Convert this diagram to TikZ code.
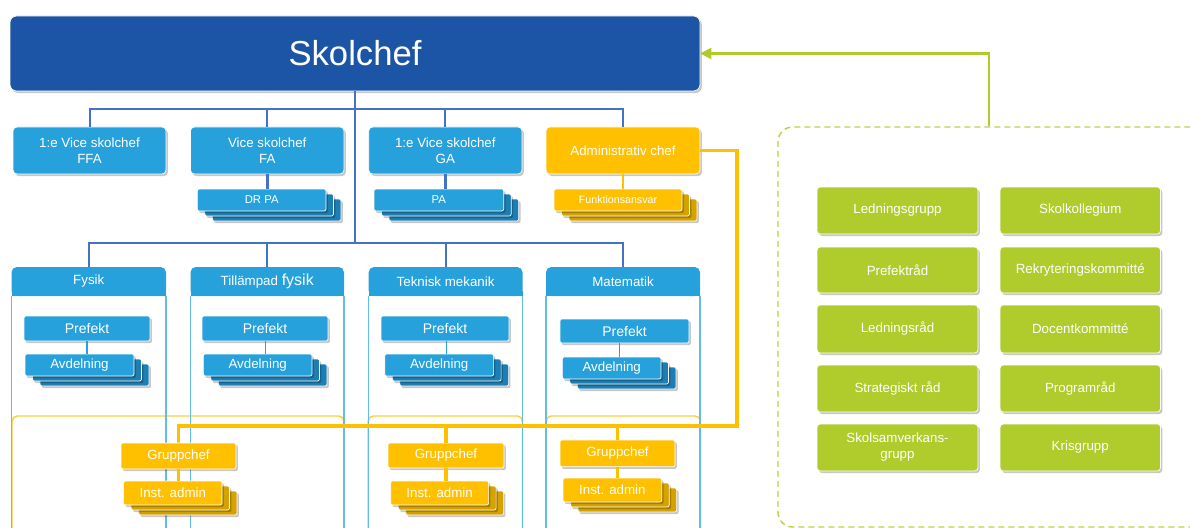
\documentclass[tikz,border=0pt]{standalone}
\usepackage{fontspec}
\setmainfont{Liberation Sans}
\usetikzlibrary{fit,shadows,arrows.meta,calc}

\definecolor{navy}{HTML}{1C55A5}
\definecolor{sky}{HTML}{26A1DB}
\definecolor{skydark}{HTML}{1C7EB2}
\definecolor{skylight}{HTML}{62BBE8}
\definecolor{busblue}{HTML}{4472C4}
\definecolor{gold}{HTML}{FFC000}
\definecolor{golddark}{HTML}{D6A200}
\definecolor{goldlight}{HTML}{FFCF3A}
\definecolor{leaf}{HTML}{B0CB2C}
\definecolor{leafdash}{HTML}{B9D54C}

\tikzset{
  % a node covering the pixel box x1,y1 -- x2,y2
  span/.style n args={4}{at={({(#1+#3)/2},{(#2+#4)/2})},
    minimum width={(#3-#1)*0.75pt}, minimum height={(#4-#2)*0.75pt}},
  shade/.style={drop shadow={shadow xshift=1.4pt, shadow yshift=-1.6pt, fill=black, opacity=0.22}},
  box/.style={inner sep=0pt, outer sep=0pt, text=white, align=center, draw=white,
    line width=0.5pt, rounded corners=3pt, font=\fontsize{10}{12}\selectfont, shade},
  navybox/.style={box, fill=navy, rounded corners=5pt, font=\fontsize{26}{30}\selectfont},
  bluebox/.style={box, fill=sky},
  goldbox/.style={box, fill=gold},
  leafbox/.style={box, fill=leaf, rounded corners=2.5pt},
  bluecard/.style={box, fill=sky, rounded corners=1.5pt},
  goldcard/.style={box, fill=gold, rounded corners=1.5pt},
  blueback/.style={draw=white, line width=0.5pt, fill=skydark, rounded corners=1.5pt, shade},
  goldback/.style={draw=white, line width=0.5pt, fill=golddark, rounded corners=1.5pt, shade},
  head/.style={inner sep=0pt, outer sep=0pt, text=white, fill=sky, rounded corners=4pt,
    font=\fontsize{10}{12}\selectfont},
  bus/.style={draw=busblue, line width=1.5pt},
  busthick/.style={draw=busblue, line width=2.2pt},
  thinlink/.style={draw=sky, line width=0.8pt},
  deptline/.style={draw=skylight, line width=0.8pt},
  adminline/.style={draw=goldlight, line width=1.1pt, rounded corners=4pt},
  goldlink/.style={draw=gold, line width=2pt},
  goldthick/.style={draw=gold, line width=2.7pt},
  panel/.style={draw=leafdash, line width=1.1pt, dash pattern=on 4.5pt off 3pt,
    rounded corners=11pt, inner sep=0pt},
  greenarrow/.style={draw=leaf, line width=2.2pt, -{Triangle[length=8.5pt,width=8pt]}}
}

% stacked cards: name, front style, back style, x1, y1, x2, y2, text
\newcommand\cardstack[8]{%
  \path[#3] ({#4+15},{#5+10}) rectangle ({#6+15},{#7+10});
  \path[#3] ({#4+7.5},{#5+5}) rectangle ({#6+7.5},{#7+5});
  \node[#2, span={#4}{#5}{#6}{#7}] (#1) {#8};
  \node[inner sep=0pt, outer sep=0pt, fit={(#4,#5)({#6+15},{#7+10})}] (#1s) {};
}

\begin{document}
\begin{tikzpicture}[x=0.75pt, y=-0.75pt]
\clip (0,0) rectangle (1190,528);
\fill[white] (0,0) rectangle (1190,528);

\coordinate (topbus) at (0,109);
\coordinate (lowbus) at (0,243);
\coordinate (obus) at (737,426);
\coordinate (floor) at (0,540);
\coordinate (gx) at (989,0);

% ---- lower administrative frames
\draw[adminline] (12,540) -- (12,416) -- (344,416) -- (344,540);
\draw[adminline] (368,540) -- (368,416) -- (522.5,416) -- (522.5,540);
\draw[adminline] (546,540) -- (546,416) -- (700.5,416) -- (700.5,540);

% ---- department headers
\node[head, span={11.5}{267}{166}{296}] (fysik) {Fysik};
\node[head, span={190.5}{267}{344}{296}] (til) {Tillämpad {\fontsize{12}{14}\selectfont fysik}};
\node[head, span={368.7}{267}{522.5}{296}] (tek) {Teknisk mekanik};
\node[head, span={546}{267}{700}{296}] (mat) {Matematik};
\foreach \d in {fysik,til,tek,mat}{
  \fill[sky] (\d.south west) rectangle ([yshift=4pt]\d.south east);
  \draw[deptline] (\d.south west) -- (\d.south west |- floor);
  \draw[deptline] (\d.south east) -- (\d.south east |- floor);
}

% ---- head of school
\node[navybox, span={10}{16}{700}{91}] (skol) {Skolchef};

% ---- deputies
\node[bluebox, span={13}{127}{166}{174}] (ffa) {1:e Vice skolchef\\FFA};
\node[bluebox, span={190.5}{127}{344}{174}] (fa) {Vice skolchef\\FA};
\node[bluebox, span={368.7}{127}{522}{174}] (ga) {1:e Vice skolchef\\GA};
\node[goldbox, span={546}{127}{700}{174}] (adm) {Administrativ chef};

% ---- reporting lines
\draw[bus] (skol.south) -- (skol.south |- lowbus);
\draw[bus] (ffa.north) -- (ffa.north |- topbus) -- (adm.north |- topbus) -- (adm.north);
\draw[bus] (fa.north) -- (fa.north |- topbus);
\draw[bus] (ga.north) -- (ga.north |- topbus);
\draw[bus] (fysik.north) -- (fysik.north |- lowbus) -- (mat.north |- lowbus) -- (mat.north);
\draw[bus] (til.north) -- (til.north |- lowbus);
\draw[bus] (tek.north) -- (tek.north |- lowbus);

% ---- staff functions
\cardstack{drpa}{bluecard, font=\fontsize{8.5}{10}\selectfont}{blueback}{197.4}{189}{326}{211}{DR PA}
\cardstack{pa}{bluecard, font=\fontsize{8.5}{10}\selectfont}{blueback}{374}{189}{503.7}{211}{PA}
\cardstack{funk}{goldcard, font=\fontsize{8}{10}\selectfont}{goldback}{554}{189}{682}{211}{Funktionsansvar}
\draw[busthick] (fa.south) -- (fa.south |- drpa.north);
\draw[busthick] (ga.south) -- (ga.south |- pa.north);
\draw[goldlink] (adm.south) -- (adm.south |- funk.north);

% ---- departments
\tikzset{pref/.style={bluebox, rounded corners=1.5pt, font=\fontsize{10.5}{12}\selectfont}}
\node[pref, span={24}{316}{150}{341}] (pf1) {Prefekt};
\node[pref, span={202}{316}{328}{341}] (pf2) {Prefekt};
\node[pref, span={381}{316}{509}{341}] (pf3) {Prefekt};
\node[pref, span={560}{319}{689}{343}] (pf4) {Prefekt};
\cardstack{av1}{bluecard}{blueback}{25}{354}{134}{376}{Avdelning}
\cardstack{av2}{bluecard}{blueback}{203.4}{354}{312}{376}{Avdelning}
\cardstack{av3}{bluecard}{blueback}{384.8}{354}{493.6}{376}{Avdelning}
\cardstack{av4}{bluecard}{blueback}{562.4}{357}{661}{379}{Avdelning}
\foreach \i in {1,2,3,4}{
  \draw[thinlink] (av\i s.north |- pf\i.south) -- (av\i s.north);
}

% ---- administration line
\draw[goldthick] (adm.east) -| (obus) -| (178.5,443);
\tikzset{grp/.style={goldbox, rounded corners=1.5pt}}
\node[grp, span={121}{443}{236}{469}] (g1) {Gruppchef};
\node[grp, span={388}{443}{504}{468}] (g2) {Gruppchef};
\node[grp, span={560}{440}{675}{466.7}] (g3) {Gruppchef};
\draw[goldthick] (g2.north) -- (g2.north |- obus);
\draw[goldthick] (g3.north) -- (g3.north |- obus);
\cardstack{ia1}{goldcard}{goldback}{123.6}{481}{222}{505}{Inst. admin}
\cardstack{ia2}{goldcard}{goldback}{390.7}{481}{488.6}{505}{Inst. admin}
\cardstack{ia3}{goldcard}{goldback}{563}{478}{661.7}{502}{Inst. admin}
\foreach \i in {1,2,3}{
  \draw[goldlink, line width=2.4pt] (g\i.south) -- (g\i.south |- ia\i.north);
}

% ---- councils and committees
\node[panel, fit={(778,127)(1215,527)}] (panel) {};
\draw[greenarrow] (panel.north west -| gx) |- (skol.east);

\node[leafbox, span={817}{187}{978}{234}] (c1) {Ledningsgrupp};
\node[leafbox, span={1000}{187}{1160.5}{234}] (c2) {Skolkollegium};
\node[leafbox, span={817}{247}{978}{293}] (c3) {Prefektråd};
\node[leafbox, span={1000}{247}{1160.5}{293}] (c4) {Rekryteringskommitté};
\node[leafbox, span={817}{305}{978}{353}] (c5) {Ledningsråd};
\node[leafbox, span={1000}{305}{1160.5}{353}] (c6) {Docentkommitté};
\node[leafbox, span={817}{365}{978}{412}] (c7) {Strategiskt råd};
\node[leafbox, span={1000}{365}{1160.5}{412}] (c8) {Programråd};
\node[leafbox, span={817}{424}{978}{471}] (c9) {Skolsamverkans-\\grupp};
\node[leafbox, span={1000}{424}{1160.5}{471}] (c10) {Krisgrupp};
\end{tikzpicture}
\end{document}
